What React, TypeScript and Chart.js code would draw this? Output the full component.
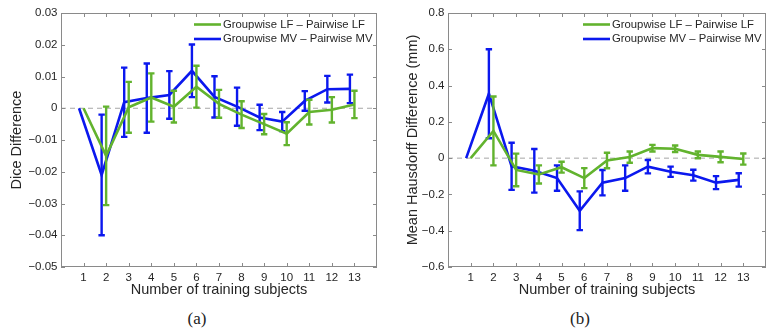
import React, { useEffect, useRef } from 'react';
import { Chart, registerables } from 'chart.js';

Chart.register(...registerables);

// ---------- data ----------
const subjects = [1, 2, 3, 4, 5, 6, 7, 8, 9, 10, 11, 12, 13];

const diceLF = [0, -0.015, 0.0003, 0.0034, 0.0005, 0.0068, 0.0014, -0.002, -0.005, -0.008, -0.0012, -0.0005, 0.0012];
const diceLFErr = [0, 0.0155, 0.008, 0.0076, 0.005, 0.0066, 0.0044, 0.0042, 0.0032, 0.0036, 0.0039, 0.004, 0.0043];
const diceMV = [0, -0.021, 0.0019, 0.0032, 0.0042, 0.0118, 0.0036, 0.0005, -0.0029, -0.0042, 0.0023, 0.006, 0.0061];
const diceMVErr = [0, 0.019, 0.0109, 0.0109, 0.0075, 0.0083, 0.0065, 0.006, 0.004, 0.003, 0.0031, 0.0042, 0.0045];

const hdLF = [0, 0.15, -0.065, -0.09, -0.05, -0.11, -0.013, 0.006, 0.055, 0.052, 0.018, 0.007, -0.005];
const hdLFErr = [0, 0.19, 0.09, 0.05, 0.03, 0.055, 0.043, 0.031, 0.018, 0.018, 0.019, 0.03, 0.031];
const hdMV = [0, 0.355, -0.045, -0.07, -0.11, -0.29, -0.135, -0.11, -0.047, -0.075, -0.094, -0.135, -0.12];
const hdMVErr = [0, 0.245, 0.13, 0.12, 0.07, 0.107, 0.07, 0.07, 0.037, 0.028, 0.03, 0.036, 0.037];

const seriesLabels = ['Groupwise LF \u2013 Pairwise LF', 'Groupwise MV \u2013 Pairwise MV'];
const xTitle = 'Number of training subjects';
const diceYTitle = 'Dice Difference';
const hdYTitle = 'Mean Hausdorff Difference (mm)';
const captions = ['(a)', '(b)'];

const GREEN = '#62b32e';
const BLUE = '#0b18ee';
const MV_OFFSET = -0.2;
const FONT = "'Liberation Sans', Arial, Helvetica, sans-serif";
const TEXT = '#262626';

// ---------- plugin ----------
const decorPlugin = {
  id: 'decor',
  beforeDatasetsDraw(chart: any) {
    const { ctx, chartArea: a, scales } = chart;
    const y0 = scales.y.getPixelForValue(0);
    ctx.save();
    ctx.strokeStyle = '#a6a6a6';
    ctx.lineWidth = 1;
    ctx.setLineDash([5, 4]);
    ctx.beginPath();
    ctx.moveTo(a.left, y0);
    ctx.lineTo(a.right, y0);
    ctx.stroke();
    ctx.restore();
  },
  afterDatasetDraw(chart: any, args: any) {
    const ds = chart.data.datasets[args.index];
    const errs: number[] = ds.errors || [];
    const { ctx, scales } = chart;
    ctx.save();
    ctx.strokeStyle = ds.borderColor;
    ctx.lineWidth = 2.4;
    ctx.lineCap = 'butt';
    ds.data.forEach((p: any, i: number) => {
      const e = errs[i];
      if (!e) return;
      const px = scales.x.getPixelForValue(p.x);
      const pt = scales.y.getPixelForValue(p.y + e);
      const pb = scales.y.getPixelForValue(p.y - e);
      ctx.beginPath();
      ctx.moveTo(px, pt);
      ctx.lineTo(px, pb);
      ctx.moveTo(px - 3.2, pt);
      ctx.lineTo(px + 3.2, pt);
      ctx.moveTo(px - 3.2, pb);
      ctx.lineTo(px + 3.2, pb);
      ctx.stroke();
    });
    ctx.restore();
  },
  afterDraw(chart: any) {
    const { ctx, chartArea: a, scales } = chart;
    ctx.save();
    // box
    ctx.strokeStyle = '#8a8a8a';
    ctx.lineWidth = 1;
    ctx.strokeRect(a.left + 0.5, a.top + 0.5, a.right - a.left - 1, a.bottom - a.top - 1);
    // inward ticks
    const tl = 4;
    ctx.beginPath();
    scales.x.ticks.forEach((t: any) => {
      if (t.value <= scales.x.min || t.value >= scales.x.max) return;
      const px = Math.round(scales.x.getPixelForValue(t.value)) + 0.5;
      ctx.moveTo(px, a.bottom);
      ctx.lineTo(px, a.bottom - tl);
      ctx.moveTo(px, a.top);
      ctx.lineTo(px, a.top + tl);
    });
    scales.y.ticks.forEach((t: any) => {
      const py = Math.round(scales.y.getPixelForValue(t.value)) + 0.5;
      ctx.moveTo(a.left, py);
      ctx.lineTo(a.left + tl, py);
      ctx.moveTo(a.right, py);
      ctx.lineTo(a.right - tl, py);
    });
    ctx.stroke();
    // legend
    const lineStart = a.right - 183;
    ctx.font = `11.3px ${FONT}`;
    ctx.textBaseline = 'middle';
    ctx.textAlign = 'left';
    chart.data.datasets.forEach((ds: any, i: number) => {
      const ly = a.top + 11.5 + i * 14.5;
      ctx.strokeStyle = ds.borderColor;
      ctx.lineWidth = 2.6;
      ctx.beginPath();
      ctx.moveTo(lineStart, ly);
      ctx.lineTo(lineStart + 27, ly);
      ctx.stroke();
      ctx.fillStyle = TEXT;
      ctx.fillText(ds.label, lineStart + 29, ly);
    });
    ctx.restore();
  },
};

function fmt(v: number, dec: number) {
  if (Math.abs(v) < 1e-9) return '0';
  return (v < 0 ? '\u2212' : '') + Math.abs(v).toFixed(dec);
}

type PanelProps = {
  lf: number[];
  lfErr: number[];
  mv: number[];
  mvErr: number[];
  yMin: number;
  yMax: number;
  yStep: number;
  dec: number;
  yTitle: string;
  width: number;
  yAxisWidth: number;
  rightPad: number;
  titlePad: number;
  left: number;
};

function Panel(props: PanelProps) {
  const ref = useRef<HTMLCanvasElement | null>(null);
  useEffect(() => {
    const canvas = ref.current!;
    const chart = new Chart(canvas, {
      type: 'line',
      data: {
        datasets: [
          {
            label: seriesLabels[0],
            data: subjects.map((s, i) => ({ x: s, y: props.lf[i] })),
            errors: props.lfErr,
            borderColor: GREEN,
            backgroundColor: GREEN,
            borderWidth: 2.6,
            pointRadius: 0,
            tension: 0,
          } as any,
          {
            label: seriesLabels[1],
            data: subjects.map((s, i) => ({ x: s + MV_OFFSET, y: props.mv[i] })),
            errors: props.mvErr,
            borderColor: BLUE,
            backgroundColor: BLUE,
            borderWidth: 2.6,
            pointRadius: 0,
            tension: 0,
          } as any,
        ],
      },
      options: {
        animation: false,
        responsive: false,
        devicePixelRatio: 1,
        layout: { padding: { left: 0, top: 13, right: props.rightPad, bottom: 0 } },
        plugins: { legend: { display: false }, tooltip: { enabled: false } },
        scales: {
          x: {
            type: 'linear',
            min: 0,
            max: 14,
            grid: { display: false, drawTicks: false },
            border: { display: false },
            ticks: {
              stepSize: 1,
              autoSkip: false,
              maxRotation: 0,
              padding: 4,
              color: TEXT,
              font: { family: FONT, size: 11.5 },
              callback: (v: any) => (v >= 1 && v <= 13 ? String(v) : ''),
            },
            title: {
              display: true,
              text: xTitle,
              color: TEXT,
              font: { family: FONT, size: 14.5 },
              padding: { top: 0, bottom: 1.3 },
            },
            afterFit: (s: any) => {
              s.height = 33;
            },
          },
          y: {
            type: 'linear',
            min: props.yMin,
            max: props.yMax,
            grid: { display: false, drawTicks: false },
            border: { display: false },
            ticks: {
              stepSize: props.yStep,
              autoSkip: false,
              padding: 3.5,
              color: TEXT,
              font: { family: FONT, size: 11.5 },
              callback: (v: any) => fmt(Number(v), props.dec),
            },
            title: {
              display: true,
              text: props.yTitle,
              color: TEXT,
              font: { family: FONT, size: 14.5 },
              padding: { top: props.titlePad, bottom: 0 },
            },
            afterFit: (s: any) => {
              s.width = props.yAxisWidth;
            },
          },
        },
      } as any,
      plugins: [decorPlugin],
    });
    return () => chart.destroy();
  }, []);
  return (
    <canvas
      ref={ref}
      width={props.width}
      height={300}
      style={{ position: 'absolute', left: props.left, top: 0, width: props.width, height: 300 }}
    />
  );
}

export default function App() {
  const cap = (text: string, x: number) => (
    <div
      style={{
        position: 'absolute',
        left: x,
        top: 318,
        transform: 'translate(-50%, -50%)',
        fontFamily: "'Liberation Serif', 'DejaVu Serif', serif",
        fontSize: 17,
        lineHeight: 1,
        color: '#222',
        whiteSpace: 'nowrap',
      }}
    >
      {text}
    </div>
  );
  return (
    <div
      style={{
        position: 'absolute',
        left: 0,
        top: 0,
        width: 768,
        height: 335,
        overflow: 'hidden',
        background: '#fff',
      }}
    >
      <Panel
        lf={diceLF}
        lfErr={diceLFErr}
        mv={diceMV}
        mvErr={diceMVErr}
        yMin={-0.05}
        yMax={0.03}
        yStep={0.01}
        dec={2}
        yTitle={diceYTitle}
        width={384}
        yAxisWidth={61}
        rightPad={7}
        titlePad={8.3}
        left={0}
      />
      <Panel
        lf={hdLF}
        lfErr={hdLFErr}
        mv={hdMV}
        mvErr={hdMVErr}
        yMin={-0.6}
        yMax={0.8}
        yStep={0.2}
        dec={1}
        yTitle={hdYTitle}
        width={386}
        yAxisWidth={64}
        rightPad={0}
        titlePad={20.3}
        left={384}
      />
      {cap(captions[0], 197)}
      {cap(captions[1], 580)}
    </div>
  );
}
